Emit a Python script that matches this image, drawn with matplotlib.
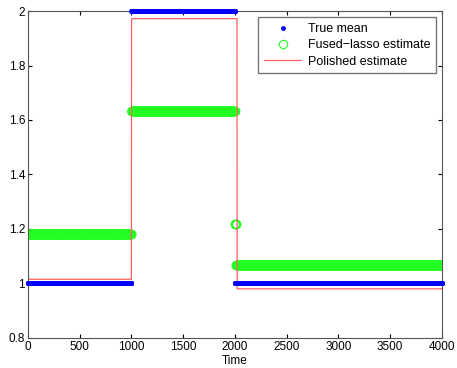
import numpy as np
import matplotlib
matplotlib.use('Agg')
import matplotlib.pyplot as plt

plt.rcParams['font.family'] = ['Liberation Sans', 'DejaVu Sans']

# piecewise constant levels (start, end, value)
true_seg = [(1, 1000, 1.0), (1001, 2000, 2.0), (2001, 4000, 1.0)]
fused_seg = [(1, 1000, 1.182), (1001, 2000, 1.632), (2001, 2010, 1.218), (2011, 4000, 1.068)]
polish_seg = [(1, 1000, 1.015), (1001, 2020, 1.972), (2021, 4000, 0.98)]

xticks = [0, 500, 1000, 1500, 2000, 2500, 3000, 3500, 4000]
yticks = [0.8, 1, 1.2, 1.4, 1.6, 1.8, 2]


def build(seg):
    t = np.concatenate([np.arange(a, b + 1) for a, b, v in seg])
    y = np.concatenate([np.full(b - a + 1, v) for a, b, v in seg])
    return t, y


t_true, y_true = build(true_seg)
t_fused, y_fused = build(fused_seg)
t_pol, y_pol = build(polish_seg)

fig = plt.figure(figsize=(4.57, 3.68), dpi=100)
ax = fig.add_axes([0.061, 0.082, 0.906, 0.888])

ax.plot(t_true, y_true, '.', color='#0000ff', markersize=5, clip_on=False,
        zorder=3, label='True mean')
ax.plot(t_fused, y_fused, 'o', color='#22ff22', markerfacecolor='none',
        markersize=6, markeredgewidth=0.8, alpha=0.6, label='Fused\u2212lasso estimate')
ax.plot(t_pol, y_pol, '-', color='#ff6060', linewidth=0.9, label='Polished estimate')

ax.set_xlim(0, 4000)
ax.set_ylim(0.8, 2)
ax.set_xticks(xticks)
ax.set_yticks(yticks)
ax.set_yticklabels(['0.8', '1', '1.2', '1.4', '1.6', '1.8', '2'])
ax.tick_params(direction='in', top=True, right=True, labelsize=8.5, length=3, pad=2)
for s in ax.spines.values():
    s.set_color('#555555')
ax.set_xlabel('Time', fontsize=8.5, labelpad=2)

leg = ax.legend(loc='upper right', fontsize=9, frameon=True, fancybox=False,
                edgecolor='#555555', borderaxespad=0.5, handlelength=3.0,
                handletextpad=0.5, labelspacing=0.35, borderpad=0.45)
for h in leg.legend_handles:
    h.set_alpha(1)

fig.savefig('out.png', dpi=100)
